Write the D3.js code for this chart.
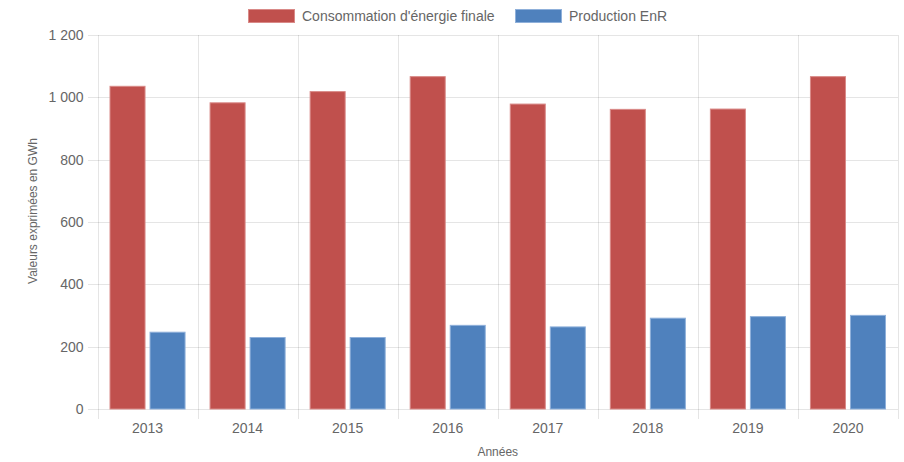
<!DOCTYPE html>
<html>
<head>
<meta charset="utf-8">
<script src="https://cdn.jsdelivr.net/npm/d3@7"></script>
<style>
  html, body { margin: 0; padding: 0; background: #fff; }
  svg { display: block; font-family: "Liberation Sans", Arial, Helvetica, sans-serif; }
</style>
</head>
<body>
<svg id="chart" width="904" height="462"></svg>
<script>
// Years shown on the x axis
const years = ["2013", "2014", "2015", "2016", "2017", "2018", "2019", "2020"];
// Final energy consumption (GWh)
const consommation = [1037, 984, 1020, 1068, 980, 963, 964, 1068];
// Renewable energy production (GWh)
const productionEnR = [248, 231, 231, 270, 265, 293, 298, 302];
// Y axis ticks
const yTicks = [0, 200, 400, 600, 800, 1000, 1200];

const seriesNames = ["Consommation d'énergie finale", "Production EnR"];
const seriesColors = ["#c0504d", "#4f81bd"];
const seriesStroke = ["#d98a88", "#8fb0da"];
const seriesValues = [consommation, productionEnR];

const svg = d3.select("#chart");
const margin = { left: 97.5, right: 6, top: 35, bottom: 53 };
const W = 904, H = 462;
const plotW = W - margin.left - margin.right;
const plotH = H - margin.top - margin.bottom;

const x = d3.scaleBand().domain(years).range([margin.left, margin.left + plotW]).paddingInner(0).paddingOuter(0);
const y = d3.scaleLinear().domain([0, 1200]).range([margin.top + plotH, margin.top]);

const fmt = v => d3.format(",")(v).replace(/,/g, " ");
const gridColor = "rgba(0,0,0,0.1)";
const textColor = "#666";

// Horizontal gridlines + y axis
const yAxis = d3.axisLeft(y).tickValues(yTicks).tickFormat(fmt).tickSize(plotW + 10).tickPadding(4);
const gy = svg.append("g")
  .attr("transform", `translate(${margin.left + plotW},0)`)
  .call(yAxis);
gy.select(".domain").remove();
gy.selectAll(".tick line").attr("stroke", gridColor).attr("shape-rendering", "crispEdges");
gy.selectAll(".tick text").attr("fill", textColor).attr("font-size", 14).attr("dx", 0);

// Vertical gridlines between categories
const xBounds = years.map(d => x(d)).concat([margin.left + plotW]);
svg.append("g").selectAll("line").data(xBounds).join("line")
  .attr("x1", d => Math.round(d) + 0.5).attr("x2", d => Math.round(d) + 0.5)
  .attr("y1", margin.top).attr("y2", margin.top + plotH + 10)
  .attr("stroke", gridColor);

// X axis labels
const xAxis = d3.axisBottom(x).tickSize(0).tickPadding(14);
const gx = svg.append("g")
  .attr("transform", `translate(0,${margin.top + plotH})`)
  .call(xAxis);
gx.select(".domain").remove();
gx.selectAll(".tick text").attr("fill", textColor).attr("font-size", 14);

// Bars: each category holds two bars side by side
const catPct = 0.8, barPct = 0.9;
years.forEach((yr, i) => {
  const cw = x.bandwidth();
  const start = x(yr) + cw * (1 - catPct) / 2;
  const slot = cw * catPct / 2;
  seriesValues.forEach((vals, s) => {
    const bw = slot * barPct;
    const bx = start + s * slot + (slot - bw) / 2;
    svg.append("rect")
      .attr("x", bx + 0.5)
      .attr("y", y(vals[i]) + 0.5)
      .attr("width", bw - 1)
      .attr("height", y(0) - y(vals[i]) - 0.5)
      .attr("fill", seriesColors[s])
      .attr("stroke", seriesStroke[s])
      .attr("stroke-width", 1);
  });
});

// Axis titles
svg.append("text")
  .attr("transform", `translate(37,211) rotate(-90)`)
  .attr("text-anchor", "middle")
  .attr("fill", textColor).attr("font-size", 12)
  .text("Valeurs exprimées en GWh");

svg.append("text")
  .attr("x", margin.left + plotW / 2).attr("y", 456)
  .attr("text-anchor", "middle")
  .attr("fill", textColor).attr("font-size", 12)
  .text("Années");

// Legend
const legend = svg.append("g");
const legendX = [248, 515];
seriesNames.forEach((name, s) => {
  const lx = legendX[s];
  legend.append("rect")
    .attr("x", lx + 0.5).attr("y", 9.5).attr("width", 46).attr("height", 13)
    .attr("fill", seriesColors[s]).attr("stroke", seriesStroke[s]);
  legend.append("text")
    .attr("x", lx + 54).attr("y", 21)
    .attr("fill", textColor).attr("font-size", 14)
    .text(name);
});
</script>
</body>
</html>
